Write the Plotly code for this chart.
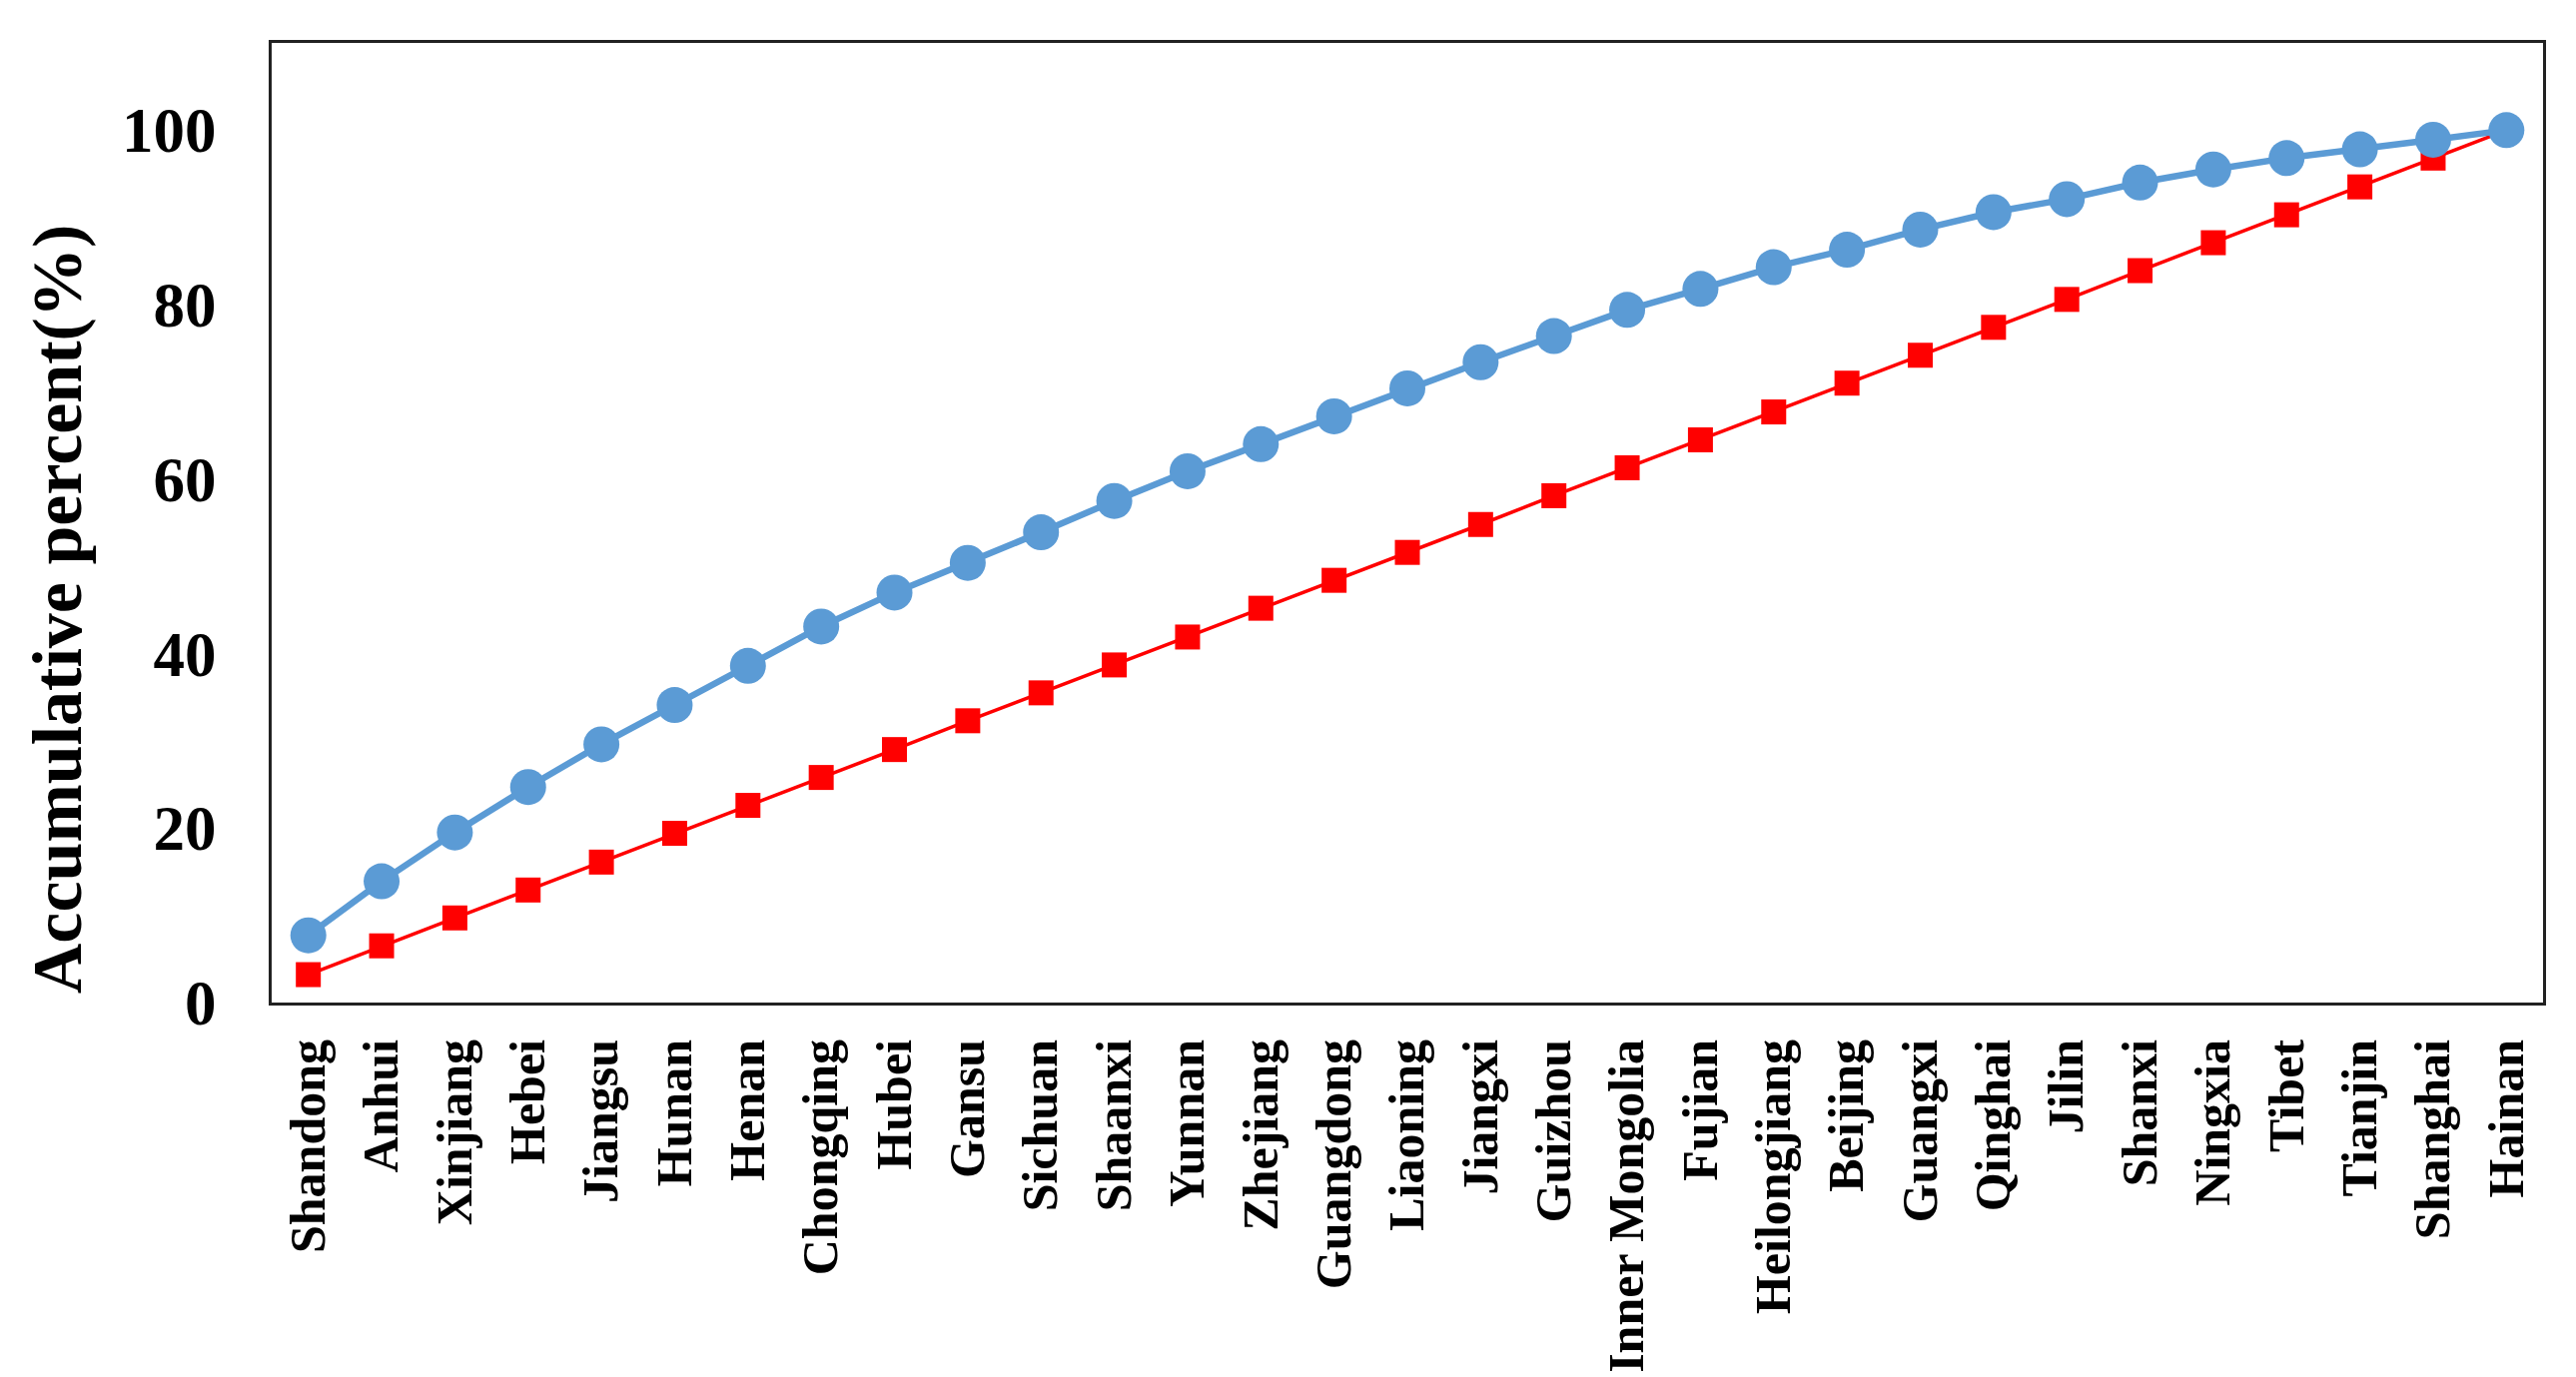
import plotly.graph_objects as go

provinces = ["Shandong", "Anhui", "Xinjiang", "Hebei", "Jiangsu", "Hunan", "Henan",
             "Chongqing", "Hubei", "Gansu", "Sichuan", "Shaanxi", "Yunnan", "Zhejiang",
             "Guangdong", "Liaoning", "Jiangxi", "Guizhou", "Inner Mongolia", "Fujian",
             "Heilongjiang", "Beijing", "Guangxi", "Qinghai", "Jilin", "Shanxi",
             "Ningxia", "Tibet", "Tianjin", "Shanghai", "Hainan"]

cumulative_share = [7.7, 13.9, 19.5, 24.7, 29.6, 34.1, 38.6, 43.1, 47.0, 50.4,
                    53.9, 57.5, 60.9, 64.0, 67.2, 70.4, 73.4, 76.4, 79.4, 81.8,
                    84.3, 86.3, 88.6, 90.6, 92.1, 94.0, 95.5, 96.8, 97.8, 98.9, 100.0]

equal_share = [3.2, 6.5, 9.7, 12.9, 16.1, 19.4, 22.6, 25.8, 29.0, 32.3,
               35.5, 38.7, 41.9, 45.2, 48.4, 51.6, 54.8, 58.1, 61.3, 64.5,
               67.7, 71.0, 74.2, 77.4, 80.6, 83.9, 87.1, 90.3, 93.5, 96.8, 100.0]

y_ticks = [0, 20, 40, 60, 80, 100]

FONT = "Liberation Serif, Times New Roman, serif"

fig = go.Figure()
fig.add_trace(go.Scatter(
    x=provinces, y=equal_share, mode="lines+markers",
    line=dict(color="#FF0000", width=3.5),
    marker=dict(symbol="square", size=25, color="#FF0000"),
    showlegend=False))
fig.add_trace(go.Scatter(
    x=provinces, y=cumulative_share, mode="lines+markers",
    line=dict(color="#5B9BD5", width=6.5),
    marker=dict(symbol="circle", size=36, color="#5B9BD5"),
    showlegend=False))

fig.update_layout(
    width=2579, height=1379,
    margin=dict(l=264, r=41, t=35, b=378),
    paper_bgcolor="white", plot_bgcolor="white",
    font=dict(family=FONT, color="black"),
    xaxis=dict(
        type="category", range=[-0.5, 30.5],
        showgrid=False, zeroline=False,
        showline=True, mirror=True, linecolor="#222222", linewidth=3,
        ticks="", tickangle=-90, ticklabelstandoff=14,
        tickfont=dict(family=FONT, size=50, color="black", weight="bold"),
    ),
    yaxis=dict(
        range=[0, 110], tickvals=y_ticks, ticktext=[str(v) for v in y_ticks],
        showgrid=False, zeroline=False,
        showline=True, mirror=True, linecolor="#222222", linewidth=3,
        ticks="", ticklabelstandoff=40,
        tickfont=dict(family=FONT, size=63, color="black", weight="bold"),
    ),
    annotations=[dict(
        text="<b>Accumulative percent(%)</b>", textangle=-90,
        xref="paper", yref="paper", x=-0.094, y=0.41,
        xanchor="center", yanchor="middle", showarrow=False,
        font=dict(family=FONT, size=70, color="black"),
    )],
)

fig.write_html("out.html")
